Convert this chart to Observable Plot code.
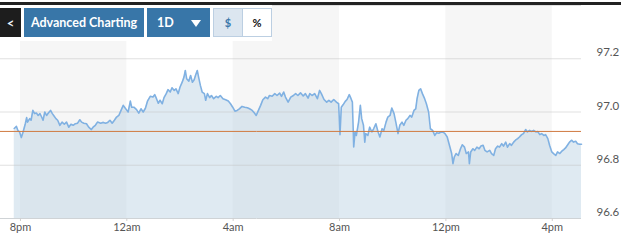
<!DOCTYPE html>
<html>
<head>
<meta charset="utf-8">
<script src="https://cdn.jsdelivr.net/npm/d3@7"></script>
<script src="https://cdn.jsdelivr.net/npm/@observablehq/plot@0.6"></script>
<style>
  html, body { margin: 0; padding: 0; background: #fff; }
  #wrap { position: relative; width: 634px; height: 246px; overflow: hidden; font-family: Lato, sans-serif; }
  #chart { position: absolute; left: 0; top: 0; }
  #topbar { position: absolute; left: 0; top: 2px; width: 621px; height: 2.5px; background: #222; }
  #hdr { position: absolute; left: 0; top: 5px; width: 272px; height: 36px; background: #fff; }
  .btn { position: absolute; top: 8px; height: 29px; box-sizing: border-box; display: flex; align-items: center; justify-content: center; font-family: Lato, sans-serif; font-weight: bold; color: #fff; }
  #back { left: 0; width: 21px; background: #1d1d1d; font-size: 13px; color: #eef4fa; }
  #adv { left: 24px; width: 120px; background: #3876a8; font-size: 12.5px; }
  #period { left: 147px; width: 63px; background: #3876a8; font-size: 12.5px; justify-content: flex-start; padding-left: 10px; }
  #tri { position: absolute; left: 44px; top: 12px; width: 0; height: 0; border-left: 5.5px solid transparent; border-right: 5.5px solid transparent; border-top: 7px solid #fff; }
  #usd { left: 213px; width: 30px; background: #dce6f0; border: 1px solid #bccfe2; color: #3b78ab; font-size: 11px; }
  #pct { left: 242px; width: 30px; background: #fff; border: 1px solid #bccfe2; color: #111; font-size: 11px; }
</style>
</head>
<body>
<div id="wrap">
  <div id="chart"></div>
  <div id="topbar"></div>
  <div id="hdr"></div>
  <div class="btn" id="back">&lt;</div>
  <div class="btn" id="adv">Advanced Charting</div>
  <div class="btn" id="period">1D<span id="tri"></span></div>
  <div class="btn" id="usd">$</div>
  <div class="btn" id="pct">%</div>
</div>
<script>
// minutes since 8pm
const minutes = [
  -14,-9,-6,-2,2,6,11,14,16,21,
  24,28,32,36,40,44,47,51,55,59,
  63,68,72,75,80,84,89,94,99,104,
  109,114,119,124,129,134,138,143,149,154,
  160,164,169,174,181,187,192,197,202,207,
  212,217,222,227,232,235,239,243,248,251,
  256,262,267,272,277,282,287,293,299,303,
  307,311,315,320,324,329,333,338,342,347,
  351,356,360,365,369,372,375,380,384,388,
  392,395,399,402,406,410,415,418,422,427,
  431,436,442,446,451,457,463,469,474,479,
  484,489,494,500,506,512,517,523,528,532,
  537,542,547,553,558,562,568,574,579,585,
  589,594,598,604,610,616,621,626,632,638,
  643,649,653,658,664,670,675,679,685,691,
  696,701,707,713,718,721,724,728,733,737,
  742,746,749,752,755,758,763,767,770,774,
  777,779,784,788,793,797,802,807,811,816,
  820,825,829,834,838,843,847,852,856,861,
  865,870,874,879,883,888,892,895,899,903,
  907,912,916,921,925,930,935,939,944,948,
  953,958,963,968,973,976,979,983,988,993,
  997,1002,1006,1011,1013,1016,1021,1025,1030,1035,
  1039,1044,1048,1053,1059,1063,1068,1072,1077,1081,
  1086,1090,1095,1099,1104,1108,1113,1117,1122,1126,
  1131,1135,1140,1144,1149,1153,1158,1163,1167,1172,
  1176,1181,1185,1190,1194,1199,1203,1208,1212,1217,
  1221,1226,1230,1235,1239,1244,1248,1253,1257,1262,
  1266
];
const prices = [
  96.938,96.946,96.931,96.925,96.904,96.925,96.956,96.979,96.962,96.975,
  96.969,97.006,96.994,96.996,96.987,96.994,96.984,96.969,97.000,96.987,
  96.996,97.006,96.994,96.987,96.975,96.969,96.950,96.962,96.954,96.962,
  96.943,96.954,96.950,96.956,96.958,96.971,96.962,96.958,96.956,96.943,
  96.934,96.943,96.950,96.962,96.958,96.961,96.958,96.961,96.969,96.958,
  96.969,96.981,96.987,97.006,97.025,97.018,97.009,97.000,97.041,97.018,
  97.018,97.009,96.996,97.012,97.000,97.014,97.042,97.059,97.056,97.065,
  97.050,97.033,97.044,97.031,97.054,97.069,97.084,97.075,97.091,97.081,
  97.087,97.069,97.093,97.112,97.131,97.156,97.125,97.116,97.137,97.112,
  97.121,97.137,97.156,97.131,97.100,97.075,97.069,97.044,97.069,97.054,
  97.062,97.050,97.059,97.054,97.062,97.050,97.046,97.041,97.031,97.018,
  97.003,97.006,97.012,97.021,97.018,97.016,97.012,97.006,96.996,96.987,
  97.006,97.025,97.046,97.056,97.050,97.062,97.059,97.069,97.062,97.071,
  97.059,97.075,97.056,97.037,97.056,97.062,97.069,97.062,97.072,97.060,
  97.069,97.052,97.069,97.062,97.069,97.050,97.081,97.069,97.047,97.037,
  97.044,97.037,97.047,97.037,97.031,96.915,97.018,97.027,97.040,97.047,
  97.065,97.050,97.037,96.869,96.925,96.912,96.962,97.025,96.975,96.950,
  96.887,96.919,96.912,96.943,96.925,96.937,96.956,96.925,96.906,96.937,
  96.931,96.962,96.981,96.987,97.015,96.994,96.962,96.919,96.950,96.962,
  96.950,96.969,96.975,96.987,96.981,97.006,97.012,97.050,97.081,97.087,
  97.069,97.050,97.031,97.000,96.937,96.931,96.912,96.922,96.920,96.924,
  96.925,96.919,96.906,96.875,96.844,96.806,96.831,96.844,96.837,96.862,
  96.877,96.868,96.844,96.850,96.806,96.850,96.862,96.856,96.868,96.862,
  96.872,96.875,96.856,96.850,96.856,96.844,96.837,96.862,96.872,96.868,
  96.881,96.872,96.887,96.868,96.881,96.875,96.887,96.894,96.900,96.906,
  96.915,96.919,96.934,96.925,96.931,96.927,96.931,96.925,96.927,96.915,
  96.919,96.912,96.915,96.900,96.875,96.850,96.844,96.837,96.850,96.844,
  96.852,96.859,96.865,96.877,96.887,96.894,96.887,96.890,96.881,96.879,
  96.879
];
const previousClose = 96.927;
const xTickMinutes = [0, 240, 480, 720, 960, 1200];
const xTickLabels = ["8pm", "12am", "4am", "8am", "12pm", "4pm"];
const yTickValues = [96.6, 96.8, 97.0, 97.2];
const yTickLabels = ["96.6", "96.8", "97.0", "97.2"];
const gridValues = [96.8, 97.0, 97.2, 97.4];
const bandStarts = [0, 480, 960];
const bandEnds = [240, 720, 1200];
const xDomain = [-45, 1266];
const yDomain = [96.6, 97.4];

const n = Math.min(minutes.length, prices.length);
const data = d3.range(n).map(i => ({m: minutes[i], p: prices[i]}));
const bands = bandStarts.map((s, i) => ({s, e: bandEnds[i]}));

const chart = Plot.plot({
  width: 634,
  height: 246,
  marginLeft: 0,
  marginRight: 53,
  marginTop: 5,
  marginBottom: 28,
  style: {fontFamily: "Lato, sans-serif", fontSize: "11px", color: "#555", background: "transparent"},
  x: {type: "linear", domain: xDomain, label: null},
  y: {domain: yDomain, label: null},
  marks: [
    Plot.rectY(bands, {x1: "s", x2: "e", y1: yDomain[0], y2: yDomain[1], fill: "#f6f6f6"}),
    Plot.areaY(data, {x: "m", y1: yDomain[0], y2: "p", fill: "#b9d0e3", fillOpacity: 0.45, curve: "linear"}),
    Plot.ruleY(gridValues, {stroke: "#c4c4c4", strokeOpacity: 0.5}),
    Plot.ruleY([yDomain[0]], {stroke: "#cfd3d6"}),
    Plot.line(data, {x: "m", y: "p", stroke: "#80b1e2", strokeWidth: 1.6, curve: "linear"}),
    Plot.ruleY([previousClose], {stroke: "#d07a40", strokeWidth: 1}),
    Plot.axisX({ticks: xTickMinutes, tickFormat: (d, i) => xTickLabels[i], label: null, tickSize: 3, tickPadding: 2, stroke: "#d0d0d0", fill: "#555", fontSize: 11}),
    Plot.axisY({anchor: "right", ticks: yTickValues, tickFormat: (d, i) => yTickLabels[i], label: null, tickSize: 0, tickPadding: 15, dy: -6, fill: "#555", fontSize: 11.5})
  ]
});
document.getElementById("chart").appendChild(chart);
</script>
</body>
</html>
